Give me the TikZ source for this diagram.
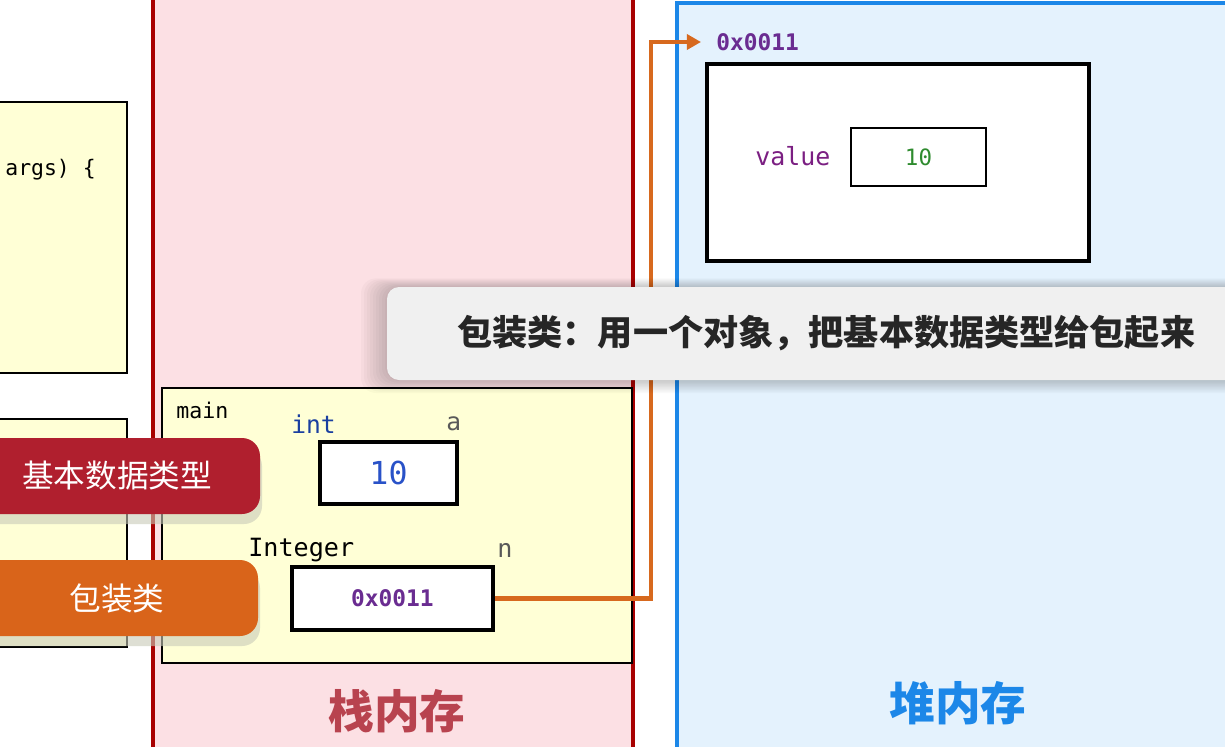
\documentclass[tikz,border=0pt]{standalone}
\usepackage{fontspec}
\setmonofont{DejaVu Sans Mono}
\newfontfamily\cjk{Noto Sans CJK SC}
\usetikzlibrary{arrows.meta}

\definecolor{stackbg}{HTML}{FCE0E4}
\definecolor{stackline}{HTML}{A80000}
\definecolor{heapbg}{HTML}{E4F2FD}
\definecolor{heapline}{HTML}{1C87E8}
\definecolor{codebg}{HTML}{FFFFD6}
\definecolor{refline}{HTML}{D7691E}
\definecolor{addr}{HTML}{6A2C91}
\definecolor{field}{HTML}{7B1F82}
\definecolor{numgreen}{HTML}{2E8B2E}
\definecolor{kwblue}{HTML}{1A3FA0}
\definecolor{numblue}{HTML}{2952C8}
\definecolor{primred}{HTML}{B01F2E}
\definecolor{wraporange}{HTML}{D9641A}
\definecolor{stacktext}{HTML}{B8434F}
\definecolor{tagshadow}{HTML}{C9CBB8}

\tikzset{
  code/.style={font=\ttfamily\fontsize{#1}{#1}\selectfont, inner sep=0pt},
  addrtext/.style={text=addr, inner sep=0pt, font=\ttfamily\bfseries\fontsize{13pt}{13pt}\selectfont},
  cell/.style={draw=black, line width=2pt, fill=white, inner sep=0pt},
  tag/.style={rounded corners=0.36cm, fill=#1},
  tagtext/.style={text=white, font=\cjk\fontsize{18pt}{18pt}\selectfont, inner sep=0pt},
  ref arrow/.style={draw=refline, line width=2.7pt, -{Triangle[length=8pt,width=8.5pt]}}
}

\begin{document}
\begin{tikzpicture}[x=0.02cm, y=-0.02cm]
    \useasboundingbox (0,0) rectangle (1225,747);
    \fill[white] (0,0) rectangle (1225,747);

    \fill[stackbg] (153,-5) rectangle (633,760);
    \draw[stackline, line width=2.5pt] (153,-5) -- (153,760) (633,-5) -- (633,760);
    \draw[heapline, line width=2.5pt, fill=heapbg] (677,760) -- (677,3) -- (1240,3) -- (1240,760);

    \draw[line width=0.9pt, fill=codebg] (-10,102) rectangle (127,373);
    \draw[line width=0.9pt, fill=codebg] (-10,419) rectangle (127,647);
    \node[code=12.2pt, anchor=west] (argsline) at (5,170) {args) \{};

    \draw[line width=1.1pt, fill=codebg] (162,388) rectangle (632,663);
    \node[code=12.3pt, anchor=west] (mainlbl) at (176,410) {main};
    \node[code=14pt, anchor=west, text=kwblue] (inttype) at (291,424) {int};
    \node[code=14pt, anchor=west, text=black!65] (aname) at (446,424) {a};
    \node[cell, minimum width=2.74cm, minimum height=1.24cm, code=18pt, text=numblue] (abox) at (388.5,473) {10};
    \node[code=14.3pt, anchor=west] (inttypeobj) at (248,550) {Integer};
    \node[code=14.3pt, anchor=west, text=black!65] (nname) at (497,550) {n};
    \node[cell, addrtext, minimum width=4.02cm, minimum height=1.26cm] (nbox) at (392.5,598.5) {0x0011};

    \node[addrtext, anchor=west] (heapaddr) at (716,42) {0x0011};
    \node[cell, minimum width=7.64cm, minimum height=3.94cm] (objbox) at (898,162.5) {};
    \node[code=14.2pt, anchor=west, text=field] (valuelbl) at (755,156) {value};
    \node[cell, line width=1.6pt, minimum width=2.7cm, minimum height=1.16cm, code=12.8pt, text=numgreen] (valbox) at (918.5,157) {10};

    \coordinate (turn) at (651,0);
    \draw[ref arrow] (nbox.east) -- (nbox.east -| turn) -- (turn |- heapaddr.west) -- ([xshift=-0.3cm]heapaddr.west);

    \node[font=\cjk\bfseries\fontsize{26pt}{26pt}\selectfont, text=stacktext] (stacklbl) at (397,711) {栈内存};
    \node[font=\cjk\bfseries\fontsize{26pt}{26pt}\selectfont, text=heapline] (heaplbl) at (958,703) {堆内存};

    \foreach \s in {2,5,...,26}
        \fill[black, opacity=0.025, rounded corners=0.3cm] (387-\s,287-\s/3) rectangle (1240,380+\s/2);
    \fill[black!6, rounded corners=0.24cm] (387,287) rectangle (1240,380);
    \node[anchor=west, inner sep=0pt, text=black!85, font=\cjk\bfseries\fontsize{20pt}{20pt}\selectfont] (note) at (457,333) {包装类：用一个对象，把基本数据类型给包起来};

    \fill[tagshadow, opacity=0.6, rounded corners=0.36cm] (-20,448) rectangle (262,524);
    \fill[tag=primred] (-20,438) rectangle (260,514);
    \node[tagtext] (primtag) at (117,476) {基本数据类型};
    \fill[tagshadow, opacity=0.6, rounded corners=0.36cm] (-20,570) rectangle (260,646);
    \fill[tag=wraporange] (-20,560) rectangle (258,636);
    \node[tagtext] (wraptag) at (117,598) {包装类};
\end{tikzpicture}
\end{document}
